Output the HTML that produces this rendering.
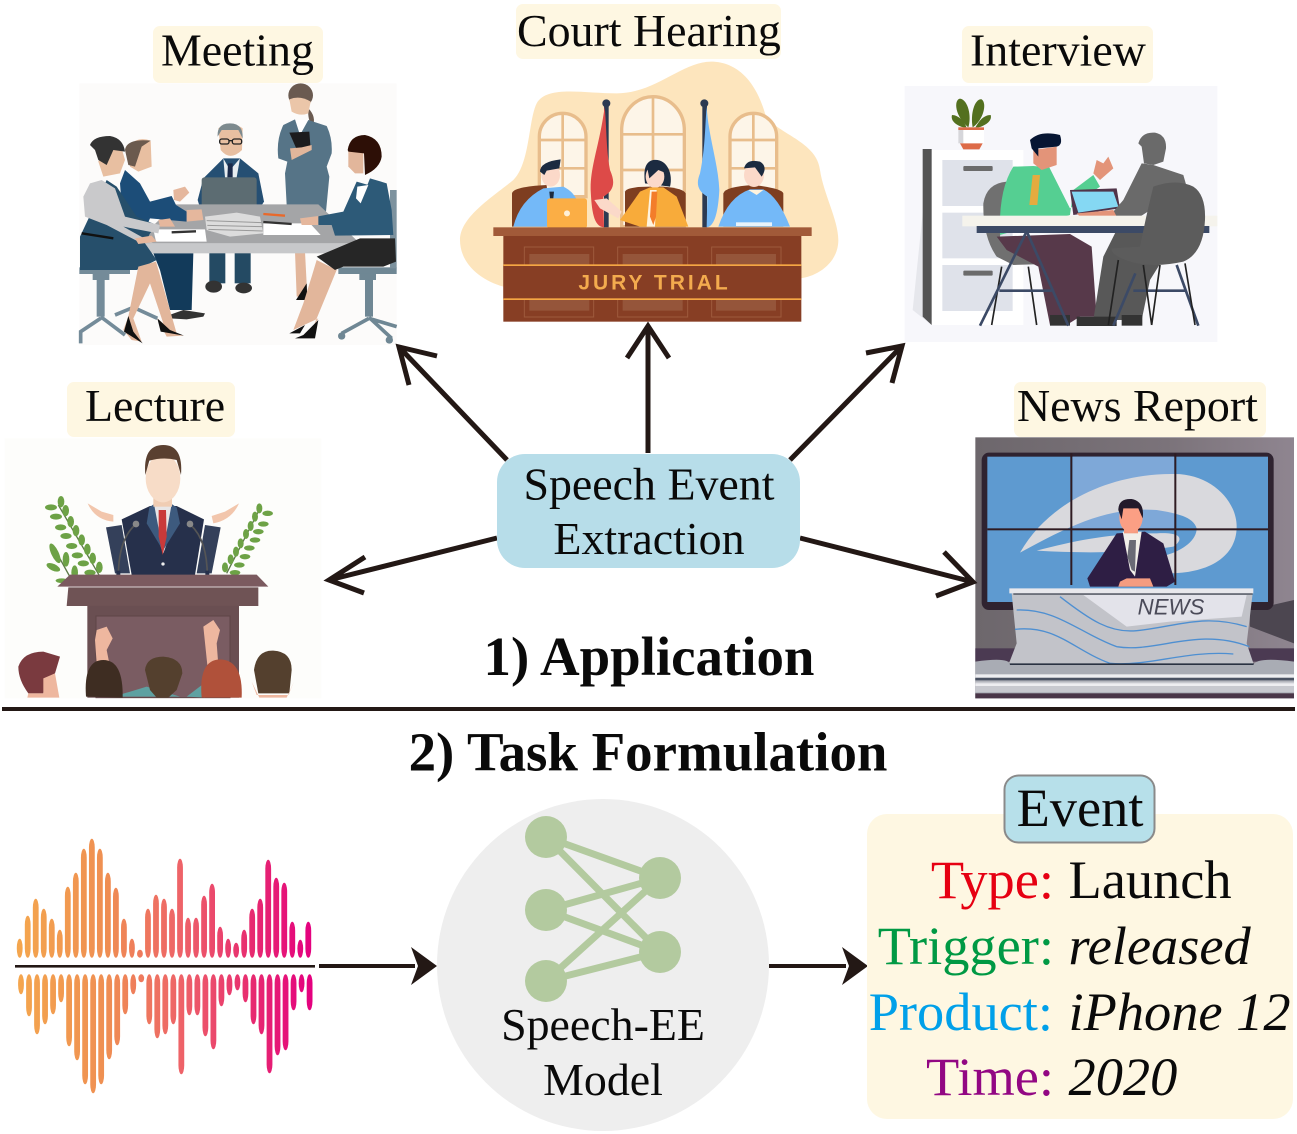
<!DOCTYPE html>
<html lang="en">
<head>
<meta charset="utf-8">
<title>Speech Event Extraction overview</title>
<style>
html,body{margin:0;padding:0;background:#fff;width:1297px;height:1134px;overflow:hidden}
svg{display:block}
text{font-family:"Liberation Serif",serif;fill:#0a0a0a}
</style>
</head>
<body>
<svg xmlns="http://www.w3.org/2000/svg" width="1297" height="1134" viewBox="0 0 1297 1134">
<defs>
<linearGradient id="waveGrad" gradientUnits="userSpaceOnUse" x1="17" y1="0" x2="312" y2="0">
<stop offset="0" stop-color="#f4a64e"/><stop offset=".3" stop-color="#ef8f52"/><stop offset=".55" stop-color="#ee6468"/><stop offset=".8" stop-color="#e72a70"/><stop offset="1" stop-color="#e4007f"/>
</linearGradient>
<linearGradient id="newsBg" x1="0" y1="0" x2="1" y2="0"><stop offset="0" stop-color="#6d676c"/><stop offset=".6" stop-color="#7b737a"/><stop offset="1" stop-color="#8f8590"/></linearGradient>
</defs>
<rect width="1297" height="1134" fill="#fff"/>

<!-- label backgrounds -->
<g fill="#fef7e2">
<rect x="153" y="26" width="170" height="57" rx="7"/>
<rect x="516" y="4" width="265" height="55" rx="7"/>
<rect x="962" y="26" width="191" height="57" rx="7"/>
<rect x="67" y="382" width="168" height="55" rx="7"/>
<rect x="1014" y="382" width="252" height="55" rx="7"/>
</g>

<!-- Meeting -->
<g transform="translate(70,70) scale(.33333)">
<rect x="28" y="40" width="952" height="785" fill="#fcfbfa"/>
<path d="M675,545L705,545L712,680L680,680Z" fill="#e2b69b"/>
<path d="M678,690L712,690L710,640Z" fill="#111"/>
<ellipse cx="692" cy="76" rx="37" ry="36" fill="#6a5a50"/>
<path d="M715,115Q740,140 728,170Q712,150 715,115Z" fill="#6a5a50"/>
<path d="M658,88Q690,75 722,95L715,130Q690,140 665,125Z" fill="#ebc6a9"/>
<path d="M670,150L716,150L716,195L670,195Z" fill="#fff"/>
<path d="M640,165L675,148L690,195L715,150L770,168Q788,205 785,250L770,290L778,320L768,425L650,405L645,310L652,275L625,265Q618,210 640,165Z" fill="#567487"/>
<path d="M658,188L718,185L722,238L680,238Z" fill="#1c1c1e"/>
<path d="M660,235L695,232L725,225L725,240L665,270Z" fill="#e2b69b"/>
<!-- left chair -->
<g fill="#748b99"><rect x="28" y="592" width="152" height="20"/><rect x="68" y="612" width="50" height="18"/><rect x="80" y="630" width="24" height="110"/></g>
<path d="M92,740L165,795M92,745L32,785L32,820M135,735L190,712L262,745" stroke="#748b99" stroke-width="11" fill="none"/>
<!-- right chair -->
<g fill="#6f8794"><rect x="805" y="592" width="175" height="20"/><rect x="868" y="612" width="50" height="18"/><rect x="885" y="630" width="24" height="110"/></g>
<path d="M897,742L965,805M897,745L815,790M897,745L980,770" stroke="#6f8794" stroke-width="11" fill="none"/>
<circle cx="815" cy="798" r="11" fill="#6f8794"/><circle cx="958" cy="810" r="11" fill="#6f8794"/>
<rect x="960" y="360" width="20" height="235" fill="#7d929e"/>
<!-- center man -->
<rect x="418" y="540" width="48" height="100" fill="#244a63"/><rect x="494" y="540" width="48" height="100" fill="#244a63"/>
<ellipse cx="431" cy="650" rx="25" ry="18" fill="#333"/><ellipse cx="521" cy="654" rx="25" ry="16" fill="#333"/>
<path d="M400,325L460,265L510,265L565,310L582,395L560,430H395L383,390Z" fill="#254f73"/>
<path d="M460,265L480,300L510,265L500,322H465Z" fill="#e7edf0"/><path d="M474,280H488L488,322H472Z" fill="#1a2a4a"/>
<path d="M445,175Q480,150 518,175L516,240Q480,275 452,240Z" fill="#e8bfa1"/>
<path d="M443,200Q440,160 480,160Q520,160 518,205L505,180L455,180Z" fill="#7d8a8e"/>
<g fill="none" stroke="#222" stroke-width="4"><rect x="449" y="207" width="28" height="15" rx="6"/><rect x="487" y="207" width="28" height="15" rx="6"/><path d="M477,212H487"/></g>
<rect x="395" y="322" width="165" height="110" rx="8" fill="#5c6c72"/>
<!-- table -->
<path d="M315,403H745L870,520H195Z" fill="#a4a5a7"/><rect x="195" y="520" width="675" height="30" fill="#c7c8ca"/>
<path d="M250,478H405L410,515H258Z" fill="#fff"/><path d="M580,460H720L752,495H580Z" fill="#fff"/>
<path d="M405,440L500,428L570,440L580,490L480,500L410,480Z" fill="#dcdcdc"/>
<g stroke="#999" stroke-width="3"><path d="M410,452L575,458M412,466L577,470M415,478L578,483"/></g>
<path d="M580,432L645,437" stroke="#e8692b" stroke-width="7"/><path d="M580,456L665,462" stroke="#333" stroke-width="7"/><path d="M305,487L378,484" stroke="#333" stroke-width="7"/>
<!-- man 2 -->
<path d="M250,550H370L365,720H300L270,600Z" fill="#123a5a"/>
<path d="M298,735L340,720L405,730L400,740L350,748L300,745Z" fill="#333"/>
<path d="M165,300L210,340L240,395L305,378L318,405L350,425L350,455L240,445L220,490L160,470L150,340Z" fill="#1c4d78"/>
<path d="M310,360L345,350L358,368L330,395L312,390Z" fill="#e5b79d"/><path d="M350,420L395,418L400,450L350,455Z" fill="#e5b79d"/>
<path d="M178,225Q205,198 242,212L245,290L205,305L180,290Z" fill="#e8bfa1"/>
<path d="M165,240Q170,205 242,212L215,230L195,290L175,285Z" fill="#6b5a4e"/>
<!-- left woman -->
<path d="M30,500L110,330L140,350L200,440L260,465L240,490L225,520L260,570L200,600H30Z" fill="#264f6b"/>
<path d="M40,380L60,340L95,330L135,355L165,440L270,465L265,490L160,470L250,520L205,515L110,465L45,440Z" fill="#c9c9cb"/>
<path d="M35,490L130,505" stroke="#111" stroke-width="7"/>
<path d="M195,505L245,497L260,515L205,522Z" fill="#e5b79d"/>
<path d="M265,450L300,445L315,470L270,470Z" fill="#e5b79d"/>
<path d="M108,230Q120,215 155,235L165,270L150,310L100,320L85,275Z" fill="#e8bfa1"/>
<path d="M60,225Q70,198 120,198Q160,205 165,245L130,240L110,285L85,270L75,240Z" fill="#333"/>
<path d="M205,590L258,575L320,790L340,797L290,800L262,745L280,760L240,640L190,745L215,815L185,810L160,780L175,740Z" fill="#e2b69b"/>
<path d="M175,738L162,785L218,820L190,785Z" fill="#111"/><path d="M262,745L272,785L342,797L300,780Z" fill="#111"/>
<!-- right woman -->
<path d="M740,570L800,600L730,770L745,745L670,780L700,700L725,620Z" fill="#e2b69b"/>
<path d="M700,795L745,750L735,805L675,805Z" fill="#111"/><path d="M658,790L705,765L690,790Z" fill="#111"/>
<path d="M740,560L870,505H975L978,575L940,590H820L795,600Z" fill="#262626"/>
<path d="M860,335L895,345L870,400L900,325L950,340L965,420L970,495L795,497L785,465L745,465L740,440L820,425Z" fill="#2d5a78"/>
<path d="M862,350L895,345L872,400L858,385Z" fill="#fff"/>
<path d="M690,445L745,438L745,465L695,465Z" fill="#e5b79d"/>
<path d="M835,245L880,240L880,310L855,310L835,290Z" fill="#e2b69b"/>
<path d="M833,240Q840,195 885,195Q935,205 935,260Q930,295 885,315L882,250L835,245Z" fill="#2d0f06"/>
</g>

<!-- Court hearing -->
<g transform="translate(450,50) scale(.33333)">
<path d="M30,570C30,500 130,440 190,390C240,340 235,210 260,160C290,105 400,130 500,130C620,130 700,30 790,35C880,40 925,120 945,190C970,250 1100,270 1110,360C1120,430 1165,510 1165,570C1165,640 1100,680 1050,685L160,710C90,690 30,640 30,570Z" fill="#fde5bd"/>
<g fill="#fdf5e8" stroke="#e8bd8c" stroke-width="10">
<path d="M268,440V260A70,70 0 0 1 408,260V440Z"/>
<path d="M515,530V240A94,100 0 0 1 703,240V530Z"/>
<path d="M840,440V260A70,70 0 0 1 980,260V440Z"/>
<path d="M338,190V440M268,270H408M268,355H408M609,140V530M515,253H703M515,360H703M910,190V440M840,270H980M840,355H980" fill="none" stroke-width="8"/>
</g>
<rect x="462" y="160" width="14" height="372" fill="#2c3a52"/><circle cx="469" cy="160" r="12" fill="#2c3a52"/>
<rect x="757" y="160" width="14" height="372" fill="#2c3a52"/><circle cx="763" cy="160" r="12" fill="#2c3a52"/>
<path d="M464,170C450,280 420,350 422,420C425,480 430,530 462,532L460,440C495,420 495,395 480,360C468,300 470,230 464,170Z" fill="#dd4a48"/>
<path d="M770,170C775,260 805,340 808,420C805,480 795,530 770,532L772,440C738,420 740,395 750,370C765,300 765,230 770,170Z" fill="#74b9f8"/>
<!-- chairs -->
<path d="M186,530V430Q190,410 290,405L300,530Z" fill="#7e3e20"/>
<path d="M525,530V425Q530,410 600,410H640Q700,415 707,430V530Z" fill="#7e3e20"/>
<path d="M820,530V430Q825,410 910,405Q995,415 1000,430V530Z" fill="#7e3e20"/>
<!-- left person -->
<path d="M190,530Q210,450 280,415L340,410Q370,425 380,450L410,530Z" fill="#74b9f8"/>
<path d="M298,425H312L310,445H300Z" fill="#1c2b40"/>
<ellipse cx="302" cy="375" rx="28" ry="35" fill="#fbd9c9"/>
<path d="M270,365Q270,335 332,328L328,355L290,362L283,375Z" fill="#1c2b40"/>
<rect x="291" y="445" width="120" height="90" rx="8" fill="#fbae45"/><circle cx="351" cy="490" r="9" fill="#fff0d8"/>
<!-- middle person -->
<path d="M610,330C650,325 670,370 660,410L585,400C580,360 585,335 610,330Z" fill="#1c2b40"/>
<ellipse cx="615" cy="380" rx="28" ry="34" fill="#fbd9c9"/>
<path d="M590,345Q620,330 650,370L625,360L598,385Z" fill="#1c2b40"/>
<path d="M570,425L600,412H640L680,440L715,530H620L600,530L570,530L510,510Z" fill="#f8ab3a"/>
<path d="M600,420H620L615,530H590Z" fill="#fff3dd"/><path d="M605,425L622,425L618,500L610,525L600,500Z" fill="#f37d2a"/>
<path d="M433,450L470,445L515,485L505,505L450,475Z" fill="#fbd9c9"/>
<!-- right person -->
<ellipse cx="912" cy="375" rx="30" ry="36" fill="#fbd9c9"/>
<path d="M882,355Q890,325 930,335Q955,350 935,380L915,352Z" fill="#1c2b40"/>
<path d="M805,530Q835,440 900,418L940,418Q985,440 1020,530Z" fill="#74b9f8"/>
<path d="M895,420H940L920,435Z" fill="#fff3dd"/><rect x="858" y="517" width="108" height="11" fill="#e8f3fb"/>
<!-- desk -->
<rect x="130" y="532" width="955" height="26" fill="#a15a39"/>
<rect x="160" y="558" width="894" height="257" fill="#873e24"/>
<g fill="none" stroke="#9e5a3c" stroke-width="3">
<rect x="223" y="591" width="208" height="210"/><rect x="503" y="591" width="210" height="210"/><rect x="785" y="591" width="208" height="210"/>
</g>
<g fill="#95553a"><rect x="238" y="612" width="180" height="170"/><rect x="518" y="612" width="180" height="170"/><rect x="798" y="612" width="180" height="170"/></g>
<rect x="160" y="645" width="894" height="103" fill="#873e24"/>
<rect x="160" y="643" width="894" height="5" fill="#f5a644"/><rect x="160" y="745" width="894" height="5" fill="#f5a644"/>
<text x="385" y="718" font-size="63" font-weight="700" textLength="448" lengthAdjust="spacing" style="font-family:'Liberation Sans',sans-serif;fill:#f3ab4e">JURY TRIAL</text>
</g>

<!-- Interview -->
<g transform="translate(900,80) scale(.33333)">
<rect x="14" y="18" width="938" height="768" fill="#f7f7fb"/>
<path d="M68,400L38,690L95,735V400Z" fill="#e6e7ec"/>
<rect x="95" y="210" width="275" height="525" fill="#fff"/>
<path d="M68,207H95V735L68,710Z" fill="#545454"/>
<g fill="#dfe2ea"><rect x="127" y="240" width="211" height="138"/><rect x="127" y="398" width="211" height="137"/><rect x="127" y="555" width="211" height="138"/></g>
<rect x="190" y="258" width="88" height="15" rx="3" fill="#6b6b6b"/><rect x="190" y="572" width="88" height="15" rx="3" fill="#6b6b6b"/>
<!-- plant -->
<g fill="#53701f"><path d="M205,142C165,110 160,60 180,56C205,60 215,110 205,142Z"/><path d="M218,142C210,100 225,55 245,58C262,70 250,120 218,142Z"/><path d="M200,145C175,140 150,125 156,105C175,105 195,125 200,145Z"/><path d="M225,145C250,140 278,125 272,105C250,105 235,125 225,145Z"/></g>
<path d="M175,142H252V190H175Z" fill="#fff"/><path d="M175,142H190V190H175Z" fill="#d6d6da"/><rect x="175" y="142" width="77" height="8" fill="#dd6b48"/><path d="M180,190H248L238,208H190Z" fill="#dd6b48"/>
<!-- left chair -->
<path d="M320,305Q260,310 250,370Q248,470 290,530L340,555L500,550L525,530L300,470Z" fill="#707070"/>
<path d="M305,560L275,735M385,560L410,735M510,535L540,735" stroke="#222" stroke-width="5"/>
<!-- man -->
<path d="M290,470L510,462L575,500L590,710H540L500,735H450L415,560L320,510Z" fill="#57394a"/>
<path d="M340,260L400,258L448,262L510,385L600,320L580,285L520,330L510,405L300,465Q295,330 340,260Z" fill="#55cf92"/>
<path d="M398,285H420L412,375H388Z" fill="#e5ab3f"/>
<path d="M400,210L470,200V255L425,270L400,250Z" fill="#e39479"/>
<path d="M390,180Q420,150 480,165Q490,195 470,200L415,205V230L395,205Z" fill="#071633"/>
<path d="M580,280L600,300L640,265L625,230L610,250L590,240Z" fill="#e39479"/>
<!-- laptop -->
<path d="M510,330L650,325L660,385L520,405Z" fill="#51354a"/><path d="M515,335H640L655,380L535,398Z" fill="#85d8f3"/>
<!-- other man -->
<path d="M715,190Q725,155 765,158Q800,165 798,205L790,245L760,255L732,250L725,200Z" fill="#6a6a6a"/>
<path d="M725,250L760,255L850,285L860,320L720,410L645,410L640,395L670,360Z" fill="#6a6a6a"/>
<path d="M530,400L640,390L650,410H540Z" fill="#e39479"/>
<path d="M650,450L750,440L800,520L750,600L725,720H580L610,530Z" fill="#585858"/>
<rect x="450" y="705" width="60" height="32" fill="#333"/><rect x="530" y="710" width="120" height="28" fill="#333"/><rect x="665" y="705" width="62" height="32" fill="#333"/>
<!-- table -->
<rect x="187" y="407" width="765" height="32" fill="#f5f3ec"/>
<rect x="230" y="438" width="698" height="21" fill="#3c4a66"/>
<path d="M378,458L240,737M382,458L505,737M298,632H455M830,555L895,737M706,580L640,737M700,632H860" stroke="#3c4a66" stroke-width="8" fill="none"/>
<!-- right chair -->
<path d="M760,320Q830,295 880,320Q918,345 915,420Q910,520 850,545Q760,565 690,545Q630,525 635,505L720,500Q740,400 760,320Z" fill="#5c5c5c"/>
<path d="M655,540L625,735M730,555L755,735M780,555L755,735M855,550L885,735" stroke="#222" stroke-width="5"/>
</g>

<!-- Lecture -->
<g transform="translate(0,430)">
<g transform="scale(.33333)">
<rect x="14" y="25" width="950" height="780" fill="#fdfdfb"/>
<!-- plants -->
<g stroke="#5d7a48" stroke-width="4" fill="none"><path d="M175,225L300,440M160,350L215,450M775,245L680,430"/></g>
<g fill="#6da246">
<ellipse cx="153" cy="232" rx="18" ry="9"/><ellipse cx="183" cy="215" rx="10" ry="17"/><ellipse cx="168" cy="260" rx="18" ry="9"/><ellipse cx="197" cy="242" rx="10" ry="17"/>
<ellipse cx="182" cy="292" rx="17" ry="9"/><ellipse cx="212" cy="275" rx="10" ry="17"/><ellipse cx="198" cy="318" rx="17" ry="9"/><ellipse cx="228" cy="302" rx="10" ry="17"/>
<ellipse cx="215" cy="348" rx="17" ry="9"/><ellipse cx="245" cy="330" rx="10" ry="17"/><ellipse cx="232" cy="376" rx="17" ry="9"/><ellipse cx="262" cy="358" rx="10" ry="17"/>
<ellipse cx="250" cy="400" rx="17" ry="9"/><ellipse cx="278" cy="385" rx="10" ry="17"/><ellipse cx="270" cy="428" rx="17" ry="9"/><ellipse cx="298" cy="412" rx="10" ry="17"/>
<ellipse cx="165" cy="370" rx="11" ry="32" transform="rotate(-25 165 370)"/><ellipse cx="198" cy="388" rx="10" ry="22"/><ellipse cx="160" cy="412" rx="22" ry="10" transform="rotate(25 160 412)"/><ellipse cx="224" cy="428" rx="10" ry="22"/><ellipse cx="185" cy="452" rx="18" ry="7"/>
<ellipse cx="803" cy="250" rx="16" ry="8"/><ellipse cx="778" cy="235" rx="9" ry="15"/><ellipse cx="790" cy="282" rx="16" ry="8"/><ellipse cx="765" cy="260" rx="9" ry="15"/>
<ellipse cx="775" cy="305" rx="16" ry="8"/><ellipse cx="752" cy="288" rx="9" ry="15"/><ellipse cx="765" cy="330" rx="16" ry="8"/><ellipse cx="738" cy="312" rx="9" ry="15"/>
<ellipse cx="748" cy="354" rx="16" ry="8"/><ellipse cx="722" cy="340" rx="9" ry="15"/><ellipse cx="735" cy="380" rx="16" ry="8"/><ellipse cx="708" cy="365" rx="9" ry="15"/>
<ellipse cx="718" cy="405" rx="16" ry="8"/><ellipse cx="692" cy="388" rx="9" ry="15"/><ellipse cx="705" cy="428" rx="16" ry="8"/><ellipse cx="675" cy="412" rx="9" ry="15"/>
</g>
<!-- speaker -->
<path d="M318,292L365,285L390,430H345Z" fill="#34405a"/><path d="M662,292L615,285L590,430H635Z" fill="#34405a"/>
<path d="M365,268L450,228L530,228L612,268L585,435H395Z" fill="#26304b"/>
<path d="M462,220H515L510,315L490,370L468,315Z" fill="#e8e6e6"/>
<path d="M448,232L462,222L488,360L440,280Z" fill="#3d5a7e"/><path d="M530,232L515,222L490,360L540,280Z" fill="#3d5a7e"/>
<path d="M476,240H498L500,320L488,375L476,320Z" fill="#c93a3a"/><circle cx="489" cy="402" r="5" fill="#eee"/>
<path d="M263,220Q285,270 340,275L340,255L305,245Z" fill="#f2c6ac"/><path d="M717,220Q695,270 640,280L635,258L675,245Z" fill="#f2c6ac"/>
<rect x="460" y="190" width="56" height="40" fill="#f0cdb3"/>
<ellipse cx="489" cy="145" rx="52" ry="72" fill="#f7dcc7"/>
<path d="M436,135Q428,45 490,45Q550,45 543,135L530,90Q490,80 448,92Z" fill="#5a4030"/>
<path d="M355,440Q355,330 405,285M622,440Q622,330 572,285" stroke="#555" stroke-width="5" fill="none"/><circle cx="408" cy="282" r="10" fill="#888"/><circle cx="570" cy="282" r="10" fill="#888"/>
<rect x="349" y="422" width="12" height="30" fill="#26304b"/><rect x="616" y="422" width="12" height="30" fill="#26304b"/>
<!-- lectern -->
<path d="M210,434H770L805,470H172Z" fill="#7b5a5f"/>
<path d="M205,472H775V528H200Z" fill="#6f5355"/>
<rect x="262" y="528" width="455" height="275" fill="#6a4f52"/><rect x="288" y="558" width="402" height="245" fill="#7a5c62" stroke="#5e4547" stroke-width="3"/>
<!-- audience -->
<path d="M290,600L320,590L338,625L320,660L328,700H290L285,630Z" fill="#eeb79f"/>
<path d="M610,590L640,570L660,600L650,640L655,705H622Z" fill="#eeb79f"/>
<path d="M340,800L440,770L540,800Z" fill="#5ea1a1"/><path d="M560,800L612,760L615,803Z" fill="#5ea1a1"/>
<path d="M55,710Q70,665 130,665L180,680L165,730L135,745L130,790L85,790Q55,750 55,710Z" fill="#7a3a3f"/><path d="M130,745L165,730L178,803H82L85,790H130Z" fill="#eeb79f"/>
<path d="M258,800Q250,690 310,690Q370,690 368,803Z" fill="#3e2d22"/>
<path d="M435,720Q440,680 490,680Q547,685 547,730L530,780L505,803H470L450,780Z" fill="#54402e"/>
<path d="M605,803Q595,690 660,688Q730,690 725,803Z" fill="#b0513a"/>
<path d="M762,720Q770,660 820,662Q875,665 875,720L868,790H775Z" fill="#54402e"/><path d="M755,755L770,795L865,795L882,755L860,803H778Z" fill="#eeb79f"/>
</g>
</g>

<!-- News -->
<g transform="translate(970,430) scale(.33333)">
<rect x="16" y="22" width="956" height="783" fill="url(#newsBg)"/>
<path d="M972,510V640L840,590V540Z" fill="#4c4650"/>
<rect x="16" y="655" width="956" height="40" fill="#4b3a52"/>
<rect x="35" y="68" width="876" height="472" rx="22" fill="#2f2330"/>
<rect x="52" y="80" width="842" height="436" fill="#5e9ad0"/>
<rect x="308" y="80" width="304" height="215" fill="#7ea8d8"/>
<path d="M150,368C240,210 430,130 610,132C720,130 800,210 800,290C800,390 700,430 600,430L590,375C640,360 680,330 680,295C670,260 620,250 560,240C420,230 310,280 150,368Z" fill="#d9d9dd"/>
<path d="M200,362C320,330 430,310 560,310C640,305 640,330 610,350C480,370 340,370 200,362Z" fill="#d9d9dd"/>
<g fill="#2f1b22"><rect x="301" y="70" width="6" height="395"/><rect x="613" y="70" width="6" height="395"/><rect x="52" y="295" width="842" height="6"/></g>
<!-- anchor -->
<path d="M352,445L440,310L525,305L580,340L615,455L590,470H360Z" fill="#2e1e44"/>
<path d="M458,305H515L495,440L480,420Z" fill="#f2efe9"/><path d="M478,330H498L495,425L485,420L472,380Z" fill="#6a6a75"/>
<rect x="462" y="275" width="42" height="35" fill="#f49c80"/>
<ellipse cx="483" cy="262" rx="35" ry="46" fill="#fb9f84"/>
<path d="M445,240Q445,205 485,207Q525,215 518,265L505,235L460,235L455,268Z" fill="#231a2b"/>
<path d="M450,455L470,445L540,445L550,470H445Z" fill="#f49c80"/>
<!-- desk -->
<path d="M125,490H848L830,640L852,705H115L140,640Z" fill="#c2c3c9"/>
<path d="M340,495H830L815,560L600,575L470,590Z" fill="#e3e3ea"/>
<path d="M130,490H848" stroke="#3a3f4b" stroke-width="8"/><path d="M118,475H850V490H118Z" fill="#e8e8ec"/>
<path d="M270,500C360,570 420,610 500,602C620,590 700,550 830,590M140,540C260,535 330,610 440,650C560,670 680,590 838,650M135,598C260,585 310,660 420,700C540,710 650,660 790,672" stroke="#4e8fd1" stroke-width="4" fill="none"/>
<path d="M115,700H852L850,715H120Z" fill="#2a3242"/>
<path d="M16,695Q120,680 120,705H850Q860,680 972,695V805H16Z" fill="#a9acb4"/>
<rect x="16" y="733" width="956" height="9" fill="#eeeef1"/><rect x="16" y="744" width="956" height="7" fill="#4a5262"/><rect x="16" y="755" width="956" height="32" fill="#c8c9cf"/><rect x="16" y="760" width="956" height="8" fill="#eeeef1"/><rect x="16" y="790" width="956" height="15" fill="#4a3648"/>
<text x="503" y="553" font-size="66" font-style="italic" textLength="200" lengthAdjust="spacingAndGlyphs" style="font-family:'Liberation Sans',sans-serif;fill:#4a4a58">NEWS</text>
</g>

<!-- Arrows -->
<g fill="none" stroke="#231815" stroke-width="5" stroke-linecap="butt" stroke-linejoin="miter">
<path d="M507,460L399,347M437,356L399,347L409,385"/>
<path d="M648,453V326M627,358L648,326L669,358"/>
<path d="M790,460L902,346M866,353L902,346L892,383"/>
<path d="M497,538L329,580M365,557L329,580L364,593"/>
<path d="M800,538L973,582M944,552L973,582L936,596"/>
</g>

<!-- Center box -->
<rect x="497" y="454" width="303" height="114" rx="28" fill="#b7dde9"/>

<!-- Divider -->
<rect x="2" y="707" width="1293" height="4" fill="#231815"/>

<!-- Waveform -->
<rect x="15" y="965" width="300" height="2.6" fill="#231815"/>
<g id="waveform"></g>

<!-- flow arrows -->
<path d="M319,966H415" stroke="#231815" stroke-width="4"/>
<path d="M437,966L411,947L418,966L411,985Z" fill="#231815"/>
<path d="M769,966H846" stroke="#231815" stroke-width="4"/>
<path d="M868,966L842,947L849,966L842,985Z" fill="#231815"/>

<!-- Model -->
<circle cx="603" cy="965" r="166" fill="#eeeeee"/>
<g>
<path d="M546,837L660,878M546,837L660,952M546,910L660,878M546,910L660,952M546,981L660,878M546,981L660,952" stroke="#b3ca9f" stroke-width="7" fill="none"/>
<g fill="#b3ca9f"><circle cx="546" cy="837" r="21"/><circle cx="546" cy="910" r="21"/><circle cx="546" cy="981" r="21"/><circle cx="660" cy="878" r="21"/><circle cx="660" cy="952" r="21"/></g>
</g>

<!-- Event panel -->
<rect x="867" y="814" width="426" height="305" rx="20" fill="#fef7e2"/>
<rect x="1004.5" y="775.5" width="150" height="67" rx="14" fill="#b7e0ea" stroke="#8a8a8a" stroke-width="2"/>

<!-- Text -->
<g font-size="45.9">
<text x="161" y="65.500">Meeting</text>
<text x="517" y="46">Court Hearing</text>
<text x="970" y="65.500">Interview</text>
<text x="85" y="421">Lecture</text>
<text x="1017" y="421">News Report</text>
<text x="649" y="499.500" text-anchor="middle">Speech Event</text>
<text x="649" y="554" text-anchor="middle">Extraction</text>
<text x="603" y="1040" text-anchor="middle">Speech-EE</text>
<text x="603" y="1095" text-anchor="middle">Model</text>
</g>
<g font-size="54.9" font-weight="700">
<text x="649" y="675" text-anchor="middle" font-weight="700">1) Application</text>
<text x="648" y="770.500" text-anchor="middle" font-weight="700">2) Task Formulation</text>
</g>
<g font-size="54.4">
<text x="1080" y="826" text-anchor="middle">Event</text>
<text x="1054" y="898" text-anchor="end" style="fill:#e60012">Type:</text>
<text x="1068.500" y="898">Launch</text>
<text x="1054" y="964" text-anchor="end" style="fill:#009944">Trigger:</text>
<text x="1068.500" y="964" font-style="italic">released</text>
<text x="1053" y="1030" text-anchor="end" style="fill:#00a0e9">Product:</text>
<text x="1068.500" y="1030" font-style="italic">iPhone 12</text>
<text x="1054" y="1095" text-anchor="end" style="fill:#920783">Time:</text>
<text x="1068.500" y="1095" font-style="italic">2020</text>
</g>
</svg>
<script>
const upperAmplitude = [19,42,59,49,39,28,71,85,109,119,109,85,70,39,19,8,49,63,59,49,99,40,40,62,74,31,19,15,28,49,59,98,80,75,36,18,36];
const lowerAmplitude = [20,42,60,50,40,28,72,86,110,119,110,85,71,40,20,8,50,64,60,50,100,41,41,62,75,32,21,16,28,50,60,99,81,76,36,18,36];
function xScale(i){ return 19.7 + i * (308.3 - 19.7) / (upperAmplitude.length - 1); }
function yUpper(v){ return 957.7 - v; }
function yLower(v){ return 974.3 + v; }
const waveNS = 'http://www.w3.org/2000/svg';
const waveGroup = document.getElementById('waveform');
function addBar(x, y0, h){
  const w = Math.min(5.8, Math.max(4.6, h));
  const el = document.createElementNS(waveNS, 'rect');
  el.setAttribute('x', x - w / 2);
  el.setAttribute('y', y0);
  el.setAttribute('width', w);
  el.setAttribute('height', h);
  el.setAttribute('rx', w / 2);
  el.setAttribute('ry', Math.min(h / 2, 9));
  el.setAttribute('fill', 'url(#waveGrad)');
  
  
  waveGroup.appendChild(el);
}
upperAmplitude.forEach(function(v, i){ addBar(xScale(i), yUpper(v), v); });
lowerAmplitude.forEach(function(v, i){ addBar(xScale(i) + 1.3, yLower(0), yLower(v) - yLower(0)); });
</script>
</body>
</html>
